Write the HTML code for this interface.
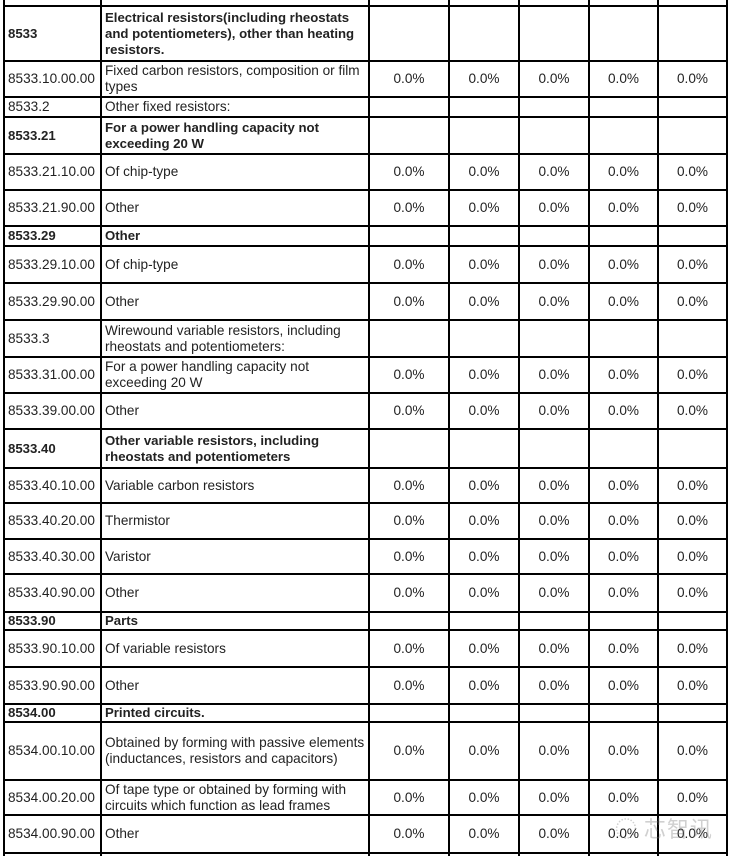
<!DOCTYPE html>
<html><head><meta charset="utf-8"><style>
html,body{margin:0;padding:0;background:#fff;width:732px;height:856px;overflow:hidden;position:relative}
table{position:absolute;left:3px;top:-16px;border-collapse:collapse;table-layout:fixed;font-family:"Liberation Sans",Arial,sans-serif;font-size:13.6px;color:#222}
td{border:2px solid #000;padding:0 0 0 3px;vertical-align:middle;line-height:16px;overflow:hidden;white-space:nowrap}
td.v{text-align:center;padding:0}
tr.b td{font-weight:bold;font-size:13.2px}
.wm{position:absolute;left:615px;top:812px;font-family:"Noto Sans CJK SC",sans-serif;font-size:22px;color:rgba(120,120,120,0.35);letter-spacing:1px}
</style></head><body>
<table>
<colgroup><col style="width:97px"><col style="width:268px"><col style="width:80px"><col style="width:70px"><col style="width:70px"><col style="width:69px"><col style="width:69px"></colgroup>
<tr style="height:21px"><td></td><td></td><td></td><td></td><td></td><td></td><td></td></tr>
<tr class="b" style="height:55px"><td>8533</td><td>Electrical resistors(including rheostats<br>and potentiometers), other than heating<br>resistors.</td><td></td><td></td><td></td><td></td><td></td></tr>
<tr style="height:36px"><td>8533.10.00.00</td><td>Fixed carbon resistors, composition or film<br>types</td><td class="v">0.0%</td><td class="v">0.0%</td><td class="v">0.0%</td><td class="v">0.0%</td><td class="v">0.0%</td></tr>
<tr style="height:20px"><td>8533.2</td><td>Other fixed resistors:</td><td></td><td></td><td></td><td></td><td></td></tr>
<tr class="b" style="height:37px"><td>8533.21</td><td>For a power handling capacity not<br>exceeding 20 W</td><td></td><td></td><td></td><td></td><td></td></tr>
<tr style="height:36px"><td>8533.21.10.00</td><td>Of chip-type</td><td class="v">0.0%</td><td class="v">0.0%</td><td class="v">0.0%</td><td class="v">0.0%</td><td class="v">0.0%</td></tr>
<tr style="height:36px"><td>8533.21.90.00</td><td>Other</td><td class="v">0.0%</td><td class="v">0.0%</td><td class="v">0.0%</td><td class="v">0.0%</td><td class="v">0.0%</td></tr>
<tr class="b" style="height:20px"><td>8533.29</td><td>Other</td><td></td><td></td><td></td><td></td><td></td></tr>
<tr style="height:37px"><td>8533.29.10.00</td><td>Of chip-type</td><td class="v">0.0%</td><td class="v">0.0%</td><td class="v">0.0%</td><td class="v">0.0%</td><td class="v">0.0%</td></tr>
<tr style="height:37px"><td>8533.29.90.00</td><td>Other</td><td class="v">0.0%</td><td class="v">0.0%</td><td class="v">0.0%</td><td class="v">0.0%</td><td class="v">0.0%</td></tr>
<tr style="height:37px"><td>8533.3</td><td>Wirewound variable resistors, including<br>rheostats and potentiometers:</td><td></td><td></td><td></td><td></td><td></td></tr>
<tr style="height:36px"><td>8533.31.00.00</td><td>For a power handling capacity not<br>exceeding 20 W</td><td class="v">0.0%</td><td class="v">0.0%</td><td class="v">0.0%</td><td class="v">0.0%</td><td class="v">0.0%</td></tr>
<tr style="height:36px"><td>8533.39.00.00</td><td>Other</td><td class="v">0.0%</td><td class="v">0.0%</td><td class="v">0.0%</td><td class="v">0.0%</td><td class="v">0.0%</td></tr>
<tr class="b" style="height:39px"><td>8533.40</td><td>Other variable resistors, including<br>rheostats and potentiometers</td><td></td><td></td><td></td><td></td><td></td></tr>
<tr style="height:35px"><td>8533.40.10.00</td><td>Variable carbon resistors</td><td class="v">0.0%</td><td class="v">0.0%</td><td class="v">0.0%</td><td class="v">0.0%</td><td class="v">0.0%</td></tr>
<tr style="height:36px"><td>8533.40.20.00</td><td>Thermistor</td><td class="v">0.0%</td><td class="v">0.0%</td><td class="v">0.0%</td><td class="v">0.0%</td><td class="v">0.0%</td></tr>
<tr style="height:35px"><td>8533.40.30.00</td><td>Varistor</td><td class="v">0.0%</td><td class="v">0.0%</td><td class="v">0.0%</td><td class="v">0.0%</td><td class="v">0.0%</td></tr>
<tr style="height:38px"><td>8533.40.90.00</td><td>Other</td><td class="v">0.0%</td><td class="v">0.0%</td><td class="v">0.0%</td><td class="v">0.0%</td><td class="v">0.0%</td></tr>
<tr class="b" style="height:18px"><td>8533.90</td><td>Parts</td><td></td><td></td><td></td><td></td><td></td></tr>
<tr style="height:37px"><td>8533.90.10.00</td><td>Of variable resistors</td><td class="v">0.0%</td><td class="v">0.0%</td><td class="v">0.0%</td><td class="v">0.0%</td><td class="v">0.0%</td></tr>
<tr style="height:37px"><td>8533.90.90.00</td><td>Other</td><td class="v">0.0%</td><td class="v">0.0%</td><td class="v">0.0%</td><td class="v">0.0%</td><td class="v">0.0%</td></tr>
<tr class="b" style="height:17px"><td>8534.00</td><td>Printed circuits.</td><td></td><td></td><td></td><td></td><td></td></tr>
<tr style="height:58px"><td>8534.00.10.00</td><td>Obtained by forming with passive elements<br>(inductances, resistors and capacitors)</td><td class="v">0.0%</td><td class="v">0.0%</td><td class="v">0.0%</td><td class="v">0.0%</td><td class="v">0.0%</td></tr>
<tr style="height:35px"><td>8534.00.20.00</td><td>Of tape type or obtained by forming with<br>circuits which function as lead frames</td><td class="v">0.0%</td><td class="v">0.0%</td><td class="v">0.0%</td><td class="v">0.0%</td><td class="v">0.0%</td></tr>
<tr style="height:38px"><td>8534.00.90.00</td><td>Other</td><td class="v">0.0%</td><td class="v">0.0%</td><td class="v">0.0%</td><td class="v">0.0%</td><td class="v">0.0%</td></tr>
<tr style="height:30px"><td></td><td></td><td></td><td></td><td></td><td></td><td></td></tr>
</table>
<div class="wm">◌ 芯智讯</div>
</body></html>
